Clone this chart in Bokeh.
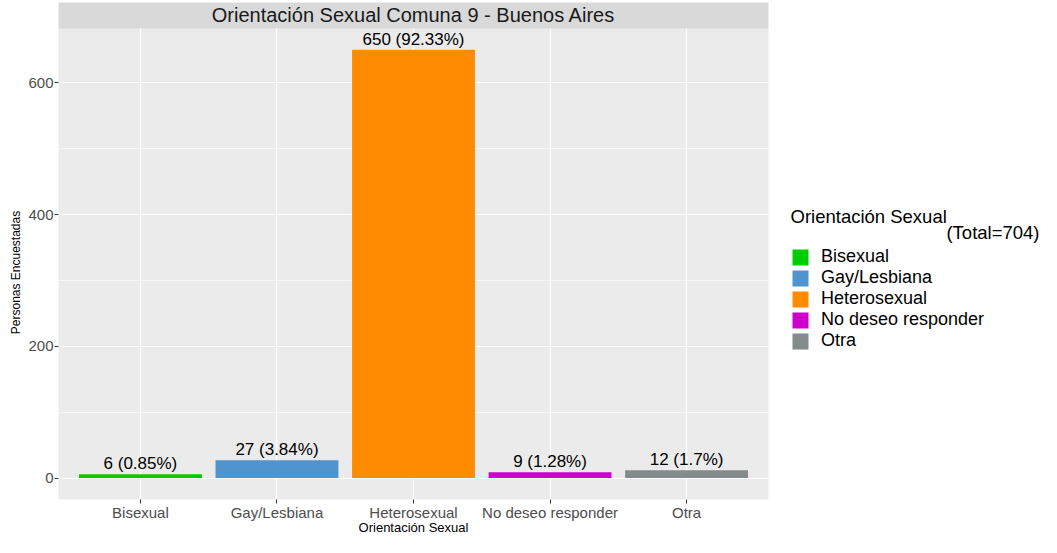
from bokeh.plotting import figure
from bokeh.models import (ColumnDataSource, FixedTicker, Legend, LegendItem,
                          Label, Range1d)
from bokeh.layouts import row
from bokeh.core.properties import value
from bokeh.embed import file_html
from bokeh.resources import INLINE
import math

# ---- data ----
categorias = ["Bisexual", "Gay/Lesbiana", "Heterosexual", "No deseo responder", "Otra"]
personas = [6, 27, 650, 9, 12]
colores = ["#00CC00", "#4F94CD", "#FF8C00", "#CD00CD", "#838B8B"]
total = 704
titulo = "Orientación Sexual Comuna 9 - Buenos Aires"
titulo_x = "Orientación Sexual"
titulo_y = "Personas Encuestadas"
titulo_leyenda = "Orientación Sexual"
y_ticks = [0, 200, 400, 600]
y_minor = [100, 300, 500]

etiquetas = [f"{v} ({round(v / total * 100, 2)}%)" for v in personas]
xs = list(range(1, len(categorias) + 1))

FONT = "Liberation Sans"
H = 537
TOP = 2          # frame top (px from canvas top)
BOTTOM_B = 36    # space below frame
FB = H - BOTTOM_B  # frame bottom in canvas px (shared by the row's frames)

src = ColumnDataSource(dict(x=xs, top=personas, color=colores,
                            label=etiquetas, cat=categorias))

x_start, x_end = 0.4, len(categorias) + 0.6
y_start = -max(personas) * 0.05
y_panel_top = max(personas) * 1.05
frame_h = FB - TOP
strip_h = 26
y_end = y_start + (y_panel_top - y_start) * frame_h / (frame_h - strip_h)

# ---------------- left strip with y-axis title ----------------
left = figure(width=24, height=H, output_backend="svg", toolbar_location=None,
              x_range=Range1d(0, 1), y_range=Range1d(0, 1),
              x_axis_location=None, y_axis_location=None,
              min_border=0, min_border_top=TOP, min_border_bottom=BOTTOM_B)
left.outline_line_color = None
left.grid.visible = False
left.background_fill_color = "white"
left.border_fill_color = "white"
left.add_layout(Label(x=15, y=FB - 274, x_units="screen", y_units="screen",
                      text=titulo_y, text_align="center", text_baseline="middle",
                      angle=math.pi / 2, text_font=FONT, text_font_size="12px",
                      text_color="black"))

# ---------------- main plot ----------------
p = figure(width=751, height=H, output_backend="svg", toolbar_location=None,
           x_range=Range1d(x_start, x_end), y_range=Range1d(y_start, y_end),
           min_border_left=34, min_border_right=7, min_border_top=TOP,
           min_border_bottom=BOTTOM_B)
p.background_fill_color = "#EBEBEB"
p.border_fill_color = "white"
p.outline_line_color = None

# strip title
p.quad(left=x_start, right=x_end, bottom=y_panel_top, top=y_end,
       fill_color="#D9D9D9", line_color=None)
p.add_layout(Label(x=(x_start + x_end) / 2, y=(y_panel_top + y_end) / 2, text=titulo,
                   text_align="center", text_baseline="middle",
                   text_font=FONT, text_font_size="20px", text_color="#1A1A1A"))

r = p.vbar(x="x", top="top", bottom=0, width=0.9, source=src,
           fill_color="color", line_color=None)

p.text(x="x", y="top", text="label", source=src, text_align="center",
       text_baseline="bottom", y_offset=-1, text_font=value(FONT),
       text_font_size="17px", text_color="black")

# axes
p.xaxis.ticker = FixedTicker(ticks=xs)
p.xaxis.major_label_overrides = {x: c for x, c in zip(xs, categorias)}
p.yaxis.ticker = FixedTicker(ticks=y_ticks, minor_ticks=y_minor)
for ax in (p.xaxis[0], p.yaxis[0]):
    ax.axis_line_color = None
    ax.major_tick_line_color = "#333333"
    ax.major_tick_in = 0
    ax.major_tick_out = 4
    ax.minor_tick_line_color = None
    ax.major_label_text_font = FONT
    ax.major_label_text_font_size = "15px"
    ax.major_label_text_color = "#4D4D4D"
    ax.major_label_standoff = 1
p.xaxis.major_label_standoff = 0
p.xaxis.axis_label = titulo_x
p.xaxis.axis_label_text_font = FONT
p.xaxis.axis_label_text_font_size = "13px"
p.xaxis.axis_label_text_font_style = "normal"
p.xaxis.axis_label_text_color = "black"
p.xaxis.axis_label_standoff = -4

p.xgrid.grid_line_color = "white"
p.xgrid.grid_line_width = 1.2
p.ygrid.grid_line_color = "white"
p.ygrid.grid_line_width = 1.2
p.ygrid.minor_grid_line_color = "white"
p.ygrid.minor_grid_line_width = 0.6

# ---------------- legend panel ----------------
lg = figure(width=266, height=H, output_backend="svg", toolbar_location=None,
            x_range=Range1d(0, 1), y_range=Range1d(0, 1),
            x_axis_location=None, y_axis_location=None,
            min_border=0, min_border_top=TOP, min_border_bottom=BOTTOM_B)
lg.outline_line_color = None
lg.grid.visible = False
lg.background_fill_color = "white"
lg.border_fill_color = "white"
r2 = lg.vbar(x="x", top="top", bottom=0, width=0.9, source=src,
             fill_color="color", line_color=None)
r2.visible = False

items = [LegendItem(label=c, renderers=[r2], index=i) for i, c in enumerate(categorias)]
legend = Legend(items=items, location=(15, FB - 353), padding=0, margin=0,
                spacing=0, glyph_width=20, glyph_height=20, label_height=20,
                label_standoff=11, label_text_font=FONT,
                label_text_font_size="18px", label_text_color="black",
                label_text_baseline="middle",
                background_fill_alpha=0, border_line_color=None)
lg.add_layout(legend)

lg.add_layout(Label(x=15, y=FB - 218, x_units="screen", y_units="screen",
                    text=titulo_leyenda, text_align="left",
                    text_baseline="alphabetic", text_font=FONT,
                    text_font_size="18.5px", text_color="black"))
lg.add_layout(Label(x=264, y=FB - 234, x_units="screen", y_units="screen",
                    text=f"(Total={total})", text_align="right",
                    text_baseline="alphabetic", text_font=FONT,
                    text_font_size="18.5px", text_color="black"))

layout = row(left, p, lg)
open("out.html", "w").write(file_html(layout, INLINE))
